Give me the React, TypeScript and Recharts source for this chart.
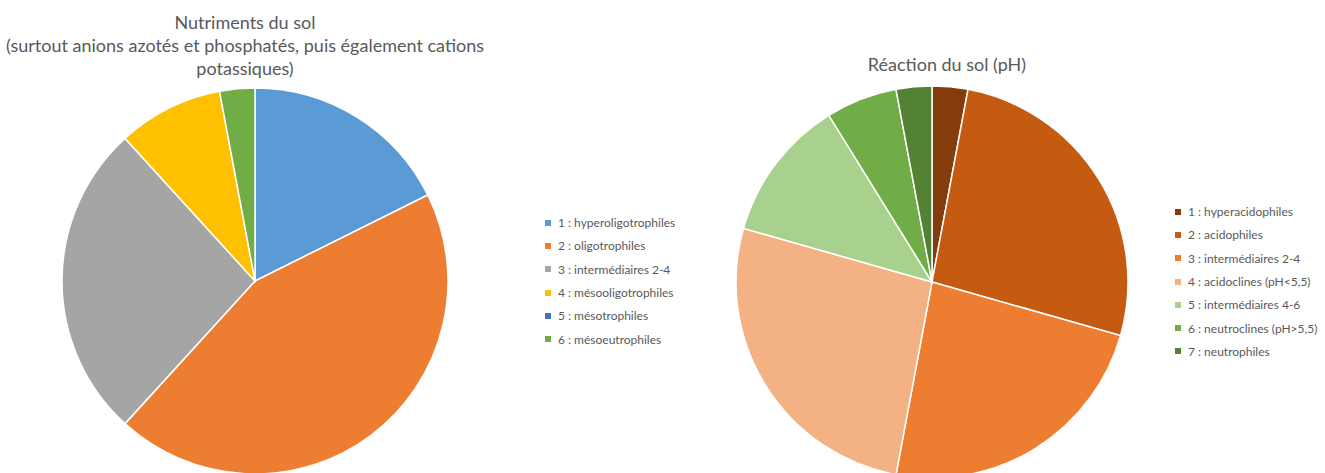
import { PieChart, Pie, Cell, Legend } from "recharts";

// Nutriments du sol
const nutrientLabels = [
  "1 : hyperoligotrophiles",
  "2 : oligotrophiles",
  "3 : intermédiaires 2-4",
  "4 : mésooligotrophiles",
  "5 : mésotrophiles",
  "6 : mésoeutrophiles",
];
const nutrientValues = [6, 15, 9, 3, 0, 1];
const nutrientColors = ["#5B9BD5", "#ED7D31", "#A5A5A5", "#FFC000", "#4472C4", "#70AD47"];

// Réaction du sol (pH)
const phLabels = [
  "1 : hyperacidophiles",
  "2 : acidophiles",
  "3 : intermédiaires 2-4",
  "4 : acidoclines (pH<5,5)",
  "5 : intermédiaires 4-6",
  "6 : neutroclines (pH>5,5)",
  "7 : neutrophiles",
];
const phValues = [1, 9, 8, 9, 4, 2, 1];
const phColors = ["#843C0C", "#C55A11", "#ED7D31", "#F4B183", "#A9D18E", "#70AD47", "#548235"];

const FONT = "Lato, 'Open Sans', sans-serif";
const TEXT = "#595959";
const NO_MARGIN = { top: 0, right: 0, bottom: 0, left: 0 };

function LegendList({ labels, colors }: { labels: string[]; colors: string[] }) {
  return (
    <div style={{ fontFamily: FONT, fontSize: 12, color: TEXT }}>
      {labels.map((l, i) => (
        <div key={l} style={{ display: "flex", alignItems: "center", height: 23.3 }}>
          <span style={{ width: 6, height: 6, background: colors[i], marginRight: 7 }} />
          <span>{l}</span>
        </div>
      ))}
    </div>
  );
}

function Title({ lines, center, top }: { lines: string[]; center: number; top: number }) {
  return (
    <div style={{
      position: "absolute", left: center - 300, top, width: 600, textAlign: "center", whiteSpace: "nowrap",
      fontFamily: FONT, fontSize: 18, lineHeight: "23px", color: TEXT,
    }}>
      {lines.map((l) => <div key={l}>{l}</div>)}
    </div>
  );
}

export default function App() {
  const nutrientData = nutrientLabels.map((name, i) => ({ name, value: nutrientValues[i] }));
  const phData = phLabels.map((name, i) => ({ name, value: phValues[i] }));
  return (
    <div style={{ position: "fixed", left: 0, top: 0, width: 1325, height: 473, background: "#fff", overflow: "hidden" }}>
      <div style={{ position: "absolute", left: 0, top: 0 }}>
        <PieChart width={660} height={473} margin={NO_MARGIN}>
          <Pie data={nutrientData} dataKey="value" nameKey="name" cx={255} cy={281} outerRadius={193}
            startAngle={90} endAngle={-270} stroke="#fff" strokeWidth={1.5} isAnimationActive={false}>
            {nutrientData.map((d, i) => <Cell key={d.name} fill={nutrientColors[i]} />)}
          </Pie>
          <Legend layout="vertical" wrapperStyle={{ position: "absolute", left: 545, top: 211, width: 150 }}
            content={() => <LegendList labels={nutrientLabels} colors={nutrientColors} />} />
        </PieChart>
      </div>
      <div style={{ position: "absolute", left: 660, top: 0 }}>
        <PieChart width={665} height={473} margin={NO_MARGIN}>
          <Pie data={phData} dataKey="value" nameKey="name" cx={272} cy={282} outerRadius={196}
            startAngle={90} endAngle={-270} stroke="#fff" strokeWidth={1.5} isAnimationActive={false}>
            {phData.map((d, i) => <Cell key={d.name} fill={phColors[i]} />)}
          </Pie>
          <Legend layout="vertical" wrapperStyle={{ position: "absolute", left: 515, top: 200, width: 150 }}
            content={() => <LegendList labels={phLabels} colors={phColors} />} />
        </PieChart>
      </div>
      <Title lines={["Nutriments du sol", "(surtout anions azotés et phosphatés, puis également cations", "potassiques)"]}
        center={245} top={11} />
      <Title lines={["Réaction du sol (pH)"]} center={947} top={53} />
    </div>
  );
}
